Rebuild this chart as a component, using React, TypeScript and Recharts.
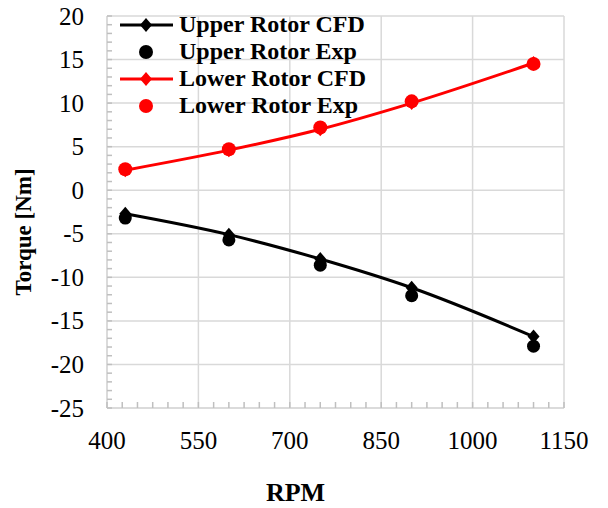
import React from "react";
import { ComposedChart, Line, Scatter, XAxis, YAxis, CartesianGrid, Label } from "recharts";

const rpm = [430, 600, 750, 900, 1100];
const upperCfd = [-2.7, -5.1, -7.9, -11.2, -16.8];
const upperExp = [-3.2, -5.7, -8.6, -12.1, -17.9];
const lowerCfd = [2.3, 4.6, 7.0, 10.0, 14.6];
const lowerExp = [2.4, 4.7, 7.2, 10.2, 14.5];

const xTicks = [400, 550, 700, 850, 1000, 1150];
const yTicks = [-25, -20, -15, -10, -5, 0, 5, 10, 15, 20];
const xMinorTicks = [400, 425, 450, 475, 500, 525, 550, 575, 600, 625, 650, 675, 700, 725, 750, 775, 800, 825, 850, 875, 900, 925, 950, 975, 1000, 1025, 1050, 1075, 1100, 1125, 1150];
const yMinorTicks = [-25, -24, -23, -22, -21, -20, -19, -18, -17, -16, -15, -14, -13, -12, -11, -10, -9, -8, -7, -6, -5, -4, -3, -2, -1, 0, 1, 2, 3, 4, 5, 6, 7, 8, 9, 10, 11, 12, 13, 14, 15, 16, 17, 18, 19, 20];

const FONT = '"Liberation Serif", "Times New Roman", serif';
const GRID = "#d9d9d9";
const MINOR = "#bfbfbf";
const X_GAP = 32;
const Y_GAP = 23;

const toPoints = (ys: number[]) => rpm.map((x, i) => ({ x, y: ys[i] }));

const series = [
  { name: "Upper Rotor CFD", color: "#000000", kind: "line" },
  { name: "Upper Rotor Exp", color: "#000000", kind: "dot" },
  { name: "Lower Rotor CFD", color: "#ff0000", kind: "line" },
  { name: "Lower Rotor Exp", color: "#ff0000", kind: "dot" },
];

const diamond = (color: string) => (props: any) => {
  const { cx, cy, index } = props;
  if (cx == null || cy == null) return <g key={index} />;
  return (
    <polygon
      key={index}
      points={`${cx},${cy - 7} ${cx + 6},${cy} ${cx},${cy + 7} ${cx - 6},${cy}`}
      fill={color}
    />
  );
};

const circle = (color: string, r: number) => (props: any) => {
  const { cx, cy } = props;
  return <circle cx={cx} cy={cy} r={r} fill={color} />;
};

function LegendBox() {
  return (
    <div
      style={{
        position: "absolute",
        top: 3,
        left: 112,
        fontFamily: FONT,
        fontWeight: "bold",
        fontSize: 24,
      }}
    >
      {series.map((s) => (
        <div key={s.name} style={{ display: "flex", alignItems: "center", height: 27 }}>
          <svg width={59} height={20}>
            {s.kind === "line" ? (
              <>
                <line x1={0} y1={10} x2={53} y2={10} stroke={s.color} strokeWidth={3} />
                <polygon points="26,3 32,10 26,17 20,10" fill={s.color} />
              </>
            ) : (
              <circle cx={26} cy={10} r={7} fill={s.color} />
            )}
          </svg>
          <span style={{ color: "#000", lineHeight: "27px", whiteSpace: "nowrap" }}>{s.name}</span>
        </div>
      ))}
    </div>
  );
}

// every minor tick gets a short inward mark; only the major ones get a label
const xTick = (props: any) => {
  const { x, y, payload } = props;
  const axisY = y - X_GAP;
  return (
    <g>
      <line x1={x} y1={axisY} x2={x} y2={axisY - 6} stroke={MINOR} strokeWidth={1.5} />
      {xTicks.includes(payload.value) && (
        <text x={x} y={y} textAnchor="middle" dominantBaseline="central" fontFamily={FONT} fontSize={25} fill="#000">
          {payload.value}
        </text>
      )}
    </g>
  );
};

const yTick = (props: any) => {
  const { x, y, payload } = props;
  const axisX = x + Y_GAP;
  return (
    <g>
      <line x1={axisX} y1={y} x2={axisX + 5} y2={y} stroke={MINOR} strokeWidth={1.5} />
      {yTicks.includes(payload.value) && (
        <text x={x} y={y} textAnchor="end" dominantBaseline="central" fontFamily={FONT} fontSize={25} fill="#000">
          {payload.value}
        </text>
      )}
    </g>
  );
};

const xLabel = (props: any) => {
  const { viewBox } = props;
  return (
    <text
      x={viewBox.x + viewBox.width / 2 - 40}
      y={viewBox.y + 84}
      textAnchor="middle"
      dominantBaseline="central"
      fontFamily={FONT}
      fontWeight="bold"
      fontSize={26}
      fill="#000"
    >
      RPM
    </text>
  );
};

const yLabel = (props: any) => {
  const { viewBox } = props;
  const x = viewBox.x + 15;
  const y = viewBox.y + viewBox.height / 2 + 20;
  return (
    <text
      x={x}
      y={y}
      transform={`rotate(-90, ${x}, ${y})`}
      textAnchor="middle"
      dominantBaseline="central"
      fontFamily={FONT}
      fontWeight="bold"
      fontSize={23}
      fill="#000"
    >
      Torque [Nm]
    </text>
  );
};

export default function App() {
  return (
    <div style={{ position: "relative", width: 600, height: 500, background: "#fff", fontFamily: FONT }}>
      <ComposedChart width={600} height={500} margin={{ top: 8, right: 44, bottom: 8, left: 0 }}>
        <CartesianGrid stroke={GRID} strokeWidth={1.5} verticalValues={xTicks} horizontalValues={yTicks} />
        <XAxis
          type="number"
          dataKey="x"
          domain={[400, 1150]}
          ticks={xMinorTicks}
          interval={0}
          height={92}
          axisLine={{ stroke: GRID, strokeWidth: 1.5 }}
          tickLine={false}
          tickSize={0}
          tickMargin={X_GAP}
          tick={xTick}
          allowDataOverflow
        >
          <Label content={xLabel} />
        </XAxis>
        <YAxis
          type="number"
          domain={[-25, 20]}
          ticks={yMinorTicks}
          interval={0}
          width={99}
          axisLine={{ stroke: GRID, strokeWidth: 1.5 }}
          tickLine={false}
          tickSize={0}
          tickMargin={Y_GAP}
          tick={yTick}
          allowDataOverflow
        >
          <Label content={yLabel} />
        </YAxis>
        <Line
          data={toPoints(upperCfd)}
          dataKey="y"
          name="Upper Rotor CFD"
          type="monotone"
          stroke="#000"
          strokeWidth={3}
          dot={diamond("#000")}
          activeDot={false}
          isAnimationActive={false}
        />
        <Scatter
          data={toPoints(upperExp)}
          dataKey="y"
          name="Upper Rotor Exp"
          fill="#000"
          shape={circle("#000", 6.5)}
          isAnimationActive={false}
        />
        <Line
          data={toPoints(lowerCfd)}
          dataKey="y"
          name="Lower Rotor CFD"
          type="monotone"
          stroke="#ff0000"
          strokeWidth={3}
          dot={diamond("#ff0000")}
          activeDot={false}
          isAnimationActive={false}
        />
        <Scatter
          data={toPoints(lowerExp)}
          dataKey="y"
          name="Lower Rotor Exp"
          fill="#ff0000"
          shape={circle("#ff0000", 7)}
          isAnimationActive={false}
        />
      </ComposedChart>
      <LegendBox />
    </div>
  );
}
